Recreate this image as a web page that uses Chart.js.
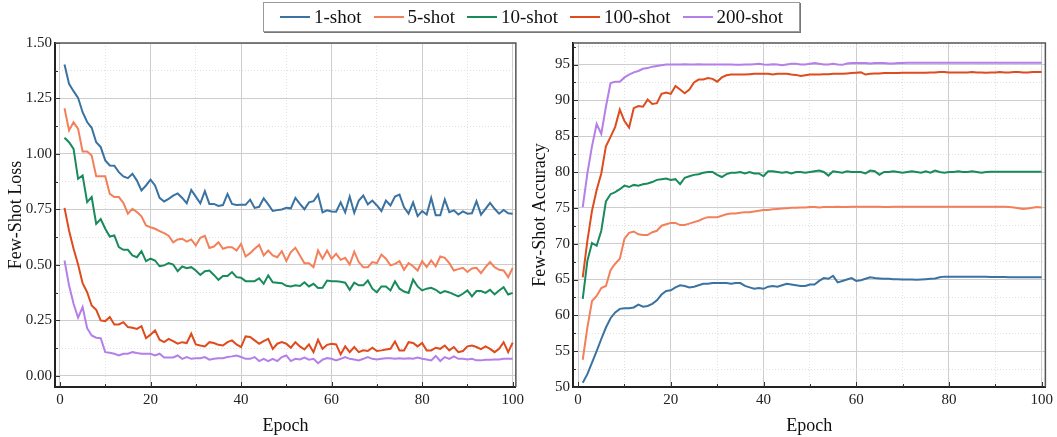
<!DOCTYPE html>
<html>
<head>
<meta charset="utf-8">
<script src="https://cdn.jsdelivr.net/npm/chart.js@4.4.1/dist/chart.umd.min.js"></script>
<style>
  body { margin: 0; background: #fff; }
  #wrap { position: relative; width: 1057px; height: 437px; font-family: "Liberation Serif", "Times New Roman", serif; }
  .panel { position: absolute; top: 0; height: 437px; }
  #lossBox { left: 0; width: 528px; }
  #accBox { left: 528px; width: 529px; }
  #legend {
    position: absolute; left: 263px; top: 2px; width: 535px; height: 28px;
    border: 1px solid #9a9a9a; box-shadow: 1px 1px 0 #777; background: #fff;
    display: flex; align-items: center; justify-content: center; gap: 12px;
    font-size: 19px; color: #111; z-index: 2;
  }
  .item { display: flex; align-items: center; gap: 4px; }
  .swatch { width: 30px; height: 2px; }
</style>
</head>
<body>
<div id="wrap">
  <div id="legend"></div>
  <div class="panel" id="lossBox"><canvas id="lossChart" width="528" height="437"></canvas></div>
  <div class="panel" id="accBox"><canvas id="accChart" width="529" height="437"></canvas></div>
</div>
<script>
// Series
var seriesNames = ["1-shot", "5-shot", "10-shot", "100-shot", "200-shot"];
var seriesColors = ["#3a72a1", "#f4805b", "#198a5c", "#df4b1c", "#b57fe8"];
var epochs = Array.from({ length: 100 }, function (_, i) { return i + 1; });

// Few-Shot Loss
var loss1shot = [
  1.403,1.316,1.283,1.253,1.188,1.144,1.118,1.053,1.031,0.971,
  0.948,0.947,0.918,0.899,0.891,0.911,0.880,0.836,0.858,0.884,
  0.858,0.802,0.786,0.798,0.812,0.822,0.802,0.778,0.838,0.808,
  0.778,0.832,0.775,0.775,0.766,0.770,0.820,0.775,0.770,0.771,
  0.771,0.794,0.757,0.762,0.800,0.773,0.743,0.747,0.750,0.758,
  0.755,0.802,0.775,0.751,0.782,0.787,0.817,0.737,0.746,0.741,
  0.740,0.782,0.737,0.808,0.735,0.790,0.813,0.773,0.790,0.768,
  0.743,0.790,0.768,0.808,0.817,0.760,0.731,0.782,0.720,0.743,
  0.727,0.802,0.724,0.724,0.795,0.738,0.746,0.727,0.741,0.731,
  0.733,0.787,0.727,0.753,0.780,0.753,0.731,0.748,0.733,0.731
];
var loss5shot = [
  1.206,1.106,1.143,1.113,1.011,1.011,0.993,0.900,0.900,0.900,
  0.820,0.806,0.806,0.780,0.731,0.753,0.738,0.719,0.678,0.670,
  0.663,0.652,0.643,0.632,0.602,0.615,0.618,0.605,0.615,0.588,
  0.622,0.631,0.576,0.583,0.602,0.573,0.580,0.580,0.565,0.595,
  0.538,0.553,0.573,0.590,0.543,0.565,0.543,0.535,0.562,0.518,
  0.558,0.577,0.543,0.508,0.508,0.490,0.565,0.528,0.565,0.528,
  0.550,0.523,0.532,0.502,0.560,0.513,0.490,0.490,0.513,0.508,
  0.547,0.528,0.498,0.505,0.517,0.478,0.508,0.494,0.475,0.517,
  0.490,0.520,0.494,0.538,0.532,0.508,0.475,0.481,0.487,0.468,
  0.484,0.487,0.463,0.490,0.513,0.490,0.478,0.475,0.445,0.487
];
var loss10shot = [
  1.073,1.053,1.023,0.888,0.903,0.783,0.806,0.685,0.707,0.663,
  0.628,0.633,0.580,0.568,0.568,0.543,0.535,0.562,0.517,0.528,
  0.520,0.494,0.498,0.508,0.502,0.472,0.493,0.485,0.490,0.475,
  0.455,0.472,0.475,0.455,0.433,0.450,0.450,0.468,0.445,0.442,
  0.427,0.427,0.427,0.440,0.415,0.453,0.422,0.420,0.418,0.406,
  0.403,0.408,0.405,0.422,0.403,0.415,0.396,0.397,0.430,0.427,
  0.426,0.424,0.420,0.388,0.420,0.408,0.408,0.430,0.393,0.377,
  0.403,0.403,0.385,0.426,0.393,0.380,0.374,0.434,0.403,0.385,
  0.393,0.397,0.388,0.373,0.382,0.376,0.367,0.358,0.370,0.385,
  0.358,0.382,0.382,0.374,0.388,0.367,0.385,0.400,0.367,0.374
];
var loss100shot = [
  0.757,0.655,0.573,0.502,0.418,0.377,0.317,0.298,0.250,0.247,
  0.265,0.232,0.232,0.242,0.220,0.217,0.212,0.224,0.170,0.186,
  0.205,0.163,0.152,0.167,0.157,0.145,0.152,0.148,0.190,0.142,
  0.137,0.133,0.152,0.148,0.140,0.137,0.152,0.160,0.142,0.130,
  0.178,0.175,0.160,0.145,0.157,0.167,0.122,0.145,0.152,0.145,
  0.127,0.152,0.133,0.119,0.142,0.107,0.163,0.122,0.140,0.145,
  0.142,0.097,0.133,0.107,0.130,0.107,0.115,0.112,0.127,0.112,
  0.115,0.119,0.122,0.155,0.115,0.115,0.152,0.148,0.133,0.148,
  0.115,0.115,0.127,0.122,0.137,0.115,0.130,0.107,0.112,0.133,
  0.137,0.130,0.121,0.133,0.122,0.107,0.122,0.152,0.107,0.150
];
var loss200shot = [
  0.520,0.408,0.325,0.262,0.310,0.215,0.182,0.172,0.170,0.107,
  0.104,0.100,0.092,0.100,0.100,0.107,0.103,0.100,0.100,0.100,
  0.092,0.100,0.083,0.083,0.083,0.092,0.077,0.085,0.077,0.080,
  0.080,0.085,0.073,0.077,0.080,0.080,0.085,0.088,0.092,0.085,
  0.077,0.077,0.085,0.067,0.077,0.067,0.077,0.067,0.085,0.092,
  0.067,0.077,0.074,0.083,0.073,0.077,0.057,0.073,0.080,0.077,
  0.070,0.077,0.085,0.077,0.074,0.070,0.077,0.085,0.077,0.074,
  0.077,0.080,0.080,0.077,0.080,0.077,0.080,0.077,0.083,0.077,
  0.074,0.070,0.090,0.067,0.085,0.077,0.088,0.077,0.077,0.074,
  0.077,0.070,0.070,0.073,0.073,0.074,0.074,0.077,0.077,0.077
];

// Few-Shot Accuracy
var acc1shot = [
  50.6,51.8,53.4,55.0,56.7,58.3,59.6,60.4,60.9,61.0,
  61.0,61.1,61.5,61.2,61.3,61.6,62.1,62.9,63.4,63.5,
  63.9,64.2,64.1,63.9,64.0,64.2,64.4,64.4,64.5,64.5,
  64.5,64.5,64.4,64.5,64.5,64.1,63.9,63.7,63.8,63.7,
  64.0,64.1,64.0,64.2,64.4,64.3,64.2,64.1,64.1,64.3,
  64.3,64.8,65.2,65.1,65.5,64.6,64.8,65.0,65.2,64.8,
  64.9,65.1,65.3,65.2,65.15,65.1,65.1,65.05,65.05,65.0,
  65.0,65.0,64.95,65.0,65.05,65.1,65.15,65.3,65.4,65.4,
  65.4,65.4,65.4,65.4,65.4,65.4,65.4,65.4,65.35,65.35,
  65.35,65.35,65.3,65.3,65.3,65.3,65.3,65.3,65.3,65.3
];
var acc5shot = [
  53.8,58.3,62.0,62.7,63.8,64.1,66.3,67.2,67.9,70.7,
  71.5,71.7,71.3,71.2,71.2,71.6,71.8,72.5,72.7,72.9,
  72.9,72.6,72.6,72.8,73.0,73.2,73.5,73.7,73.7,73.7,
  73.9,74.1,74.2,74.2,74.3,74.4,74.4,74.5,74.6,74.7,
  74.7,74.8,74.85,74.9,74.95,75.0,75.0,75.05,75.05,75.1,
  75.1,75.05,75.1,75.1,75.1,75.15,75.1,75.1,75.15,75.15,
  75.15,75.15,75.15,75.15,75.15,75.1,75.1,75.15,75.15,75.15,
  75.15,75.15,75.15,75.15,75.15,75.15,75.15,75.15,75.15,75.15,
  75.15,75.15,75.15,75.15,75.15,75.15,75.15,75.15,75.15,75.15,
  75.15,75.15,75.1,75.05,74.95,74.85,74.9,75.0,75.1,75.05
];
var acc10shot = [
  62.3,67.6,70.1,69.7,71.8,75.9,76.9,77.2,77.6,78.1,
  77.9,78.2,78.1,78.3,78.4,78.6,78.9,79.0,79.1,78.9,
  79.0,78.3,79.2,79.4,79.6,79.7,79.9,80.0,80.0,79.6,
  79.3,79.7,79.9,79.9,80.0,79.8,80.0,79.8,79.8,79.4,
  80.1,80.1,80.0,79.9,80.0,79.8,80.0,80.0,79.9,80.0,
  80.1,80.2,80.0,79.5,80.1,80.0,79.9,80.1,80.0,80.0,
  80.0,79.8,80.2,80.1,79.6,80.0,80.0,80.1,80.0,79.9,
  80.0,80.1,80.0,79.9,80.1,79.9,80.2,80.0,79.9,80.0,
  80.0,80.1,80.0,80.0,80.1,80.0,79.9,80.0,80.05,80.05,
  80.05,80.05,80.05,80.05,80.05,80.05,80.05,80.05,80.05,80.05
];
var acc100shot = [
  65.3,70.4,74.6,77.5,79.8,83.6,84.9,86.3,88.7,87.1,
  86.2,88.9,89.2,89.1,90.1,89.5,89.6,90.9,91.1,90.9,
  92.0,91.5,91.0,91.5,92.5,92.9,92.9,93.1,93.0,92.6,
  93.2,93.5,93.6,93.6,93.6,93.6,93.65,93.7,93.7,93.7,
  93.7,93.6,93.7,93.7,93.7,93.6,93.55,93.4,93.5,93.6,
  93.6,93.6,93.65,93.65,93.7,93.7,93.7,93.75,93.8,93.85,
  93.9,93.6,93.7,93.75,93.75,93.8,93.8,93.8,93.8,93.85,
  93.85,93.85,93.85,93.85,93.85,93.9,93.9,93.95,93.95,93.9,
  93.9,93.9,93.9,93.9,93.95,93.9,93.9,93.85,93.9,93.9,
  93.95,93.9,93.9,93.95,93.95,93.9,93.9,93.95,93.95,93.95
];
var acc200shot = [
  75.1,79.8,83.6,86.7,85.3,89.1,92.4,92.6,92.6,93.2,
  93.6,93.9,94.1,94.4,94.5,94.7,94.8,94.9,95.0,95.0,
  95.0,95.0,95.05,95.0,95.0,95.05,95.0,95.0,95.0,95.0,
  95.0,95.0,95.0,94.95,94.95,95.0,95.0,95.05,95.1,95.0,
  94.95,95.05,95.0,94.9,95.0,95.1,95.1,95.0,95.0,95.1,
  95.2,95.1,95.0,95.0,95.1,95.0,94.95,95.15,95.2,95.2,
  95.2,95.2,95.15,95.2,95.2,95.2,95.15,95.15,95.2,95.2,
  95.25,95.25,95.25,95.25,95.25,95.25,95.25,95.25,95.25,95.25,
  95.25,95.25,95.25,95.25,95.25,95.25,95.25,95.25,95.25,95.25,
  95.25,95.25,95.25,95.25,95.25,95.25,95.25,95.25,95.25,95.25
];

// Ticks (major labelled, minor only as dotted grid)
var epochTicks = [0, 20, 40, 60, 80, 100];
var epochMinor = [10, 30, 50, 70, 90];
var lossTicks = [0, 0.25, 0.5, 0.75, 1.0, 1.25, 1.5];
var lossMinor = [0.125, 0.375, 0.625, 0.875, 1.125, 1.375];
var accTicks = [50, 55, 60, 65, 70, 75, 80, 85, 90, 95];
var accMinor = [52.5, 57.5, 62.5, 67.5, 72.5, 77.5, 82.5, 87.5, 92.5, 97.5];

Chart.defaults.font.family = '"Liberation Serif", "Times New Roman", serif';
Chart.defaults.color = "#222";

// legend in html
var legend = document.getElementById("legend");
seriesNames.forEach(function (name, i) {
    var item = document.createElement("div");
    item.className = "item";
    item.innerHTML = '<span class="swatch" style="background:' + seriesColors[i] + '"></span><span>' + name + "</span>";
    legend.appendChild(item);
});

function isMajor(list, v) {
    return list.some(function (m) { return Math.abs(m - v) < 1e-6; });
}

// frame on top/right + short inward ticks
var framePlugin = {
    id: "frame",
    afterDraw: function (chart) {
        var ctx = chart.ctx, a = chart.chartArea;
        var xs = chart.scales.x, ys = chart.scales.y;
        ctx.save();
        ctx.strokeStyle = "#333";
        ctx.lineWidth = 1;
        xs.ticks.forEach(function (t) {
            var px = Math.round(xs.getPixelForValue(t.value)) + 0.5;
            var len = isMajor(xs.options.majorList, t.value) ? 5 : 3;
            ctx.beginPath(); ctx.moveTo(px, a.bottom); ctx.lineTo(px, a.bottom - len); ctx.stroke();
        });
        ys.ticks.forEach(function (t) {
            var py = Math.round(ys.getPixelForValue(t.value)) + 0.5;
            var len = isMajor(ys.options.majorList, t.value) ? 5 : 3;
            ctx.beginPath(); ctx.moveTo(a.left, py); ctx.lineTo(a.left + len, py); ctx.stroke();
        });
        ctx.strokeStyle = "#555";
        ctx.lineWidth = 1.5;
        ctx.beginPath();
        ctx.moveTo(a.left, a.top); ctx.lineTo(a.right, a.top); ctx.lineTo(a.right, a.bottom);
        ctx.stroke();
        ctx.restore();
    }
};

function makeScale(opts) {
    return {
        type: "linear",
        min: opts.min,
        max: opts.max,
        majorList: opts.major,
        afterBuildTicks: function (scale) {
            scale.ticks = opts.major.concat(opts.minor)
                .sort(function (a, b) { return a - b; })
                .map(function (v) { return { value: v }; });
        },
        afterFit: function (scale) {
            if (opts.width) scale.width = opts.width;
            if (opts.height) scale.height = opts.height;
        },
        ticks: {
            autoSkip: false,
            maxRotation: 0,
            padding: opts.tickPad,
            font: { size: 15 },
            color: "#222",
            callback: function (v) {
                return isMajor(opts.major, v) ? opts.fmt(v) : "";
            }
        },
        grid: {
            drawTicks: false,
            lineWidth: 1,
            color: function (c) {
                if (!c.tick) return "#cdcdcd";
                return isMajor(opts.major, c.tick.value) ? "#cdcdcd" : "#e0e0e0";
            }
        },
        border: {
            display: true,
            color: "#222",
            width: 2,
            dash: function (c) {
                if (!c.tick) return [];
                return isMajor(opts.major, c.tick.value) ? [] : [1, 2];
            }
        },
        title: {
            display: true,
            text: opts.title,
            font: { size: 18 },
            color: "#111",
            padding: { top: opts.titlePad, bottom: 0 }
        }
    };
}

function makeDatasets(lists) {
    return lists.map(function (vals, i) {
        return {
            label: seriesNames[i],
            data: vals.map(function (v, j) { return { x: epochs[j], y: v }; }),
            borderColor: seriesColors[i],
            backgroundColor: seriesColors[i],
            borderWidth: 2,
            pointRadius: 0,
            tension: 0,
            fill: false
        };
    });
}

function makeChart(id, lists, xRange, yOpts, padRight) {
    return new Chart(document.getElementById(id), {
        type: "line",
        data: { datasets: makeDatasets(lists) },
        options: {
            responsive: false,
            animation: false,
            layout: { padding: { left: 0, right: padRight, top: 43, bottom: 0 } },
            plugins: { legend: { display: false }, tooltip: { enabled: false } },
            scales: {
                x: makeScale({
                    min: xRange[0], max: xRange[1], major: epochTicks, minor: epochMinor,
                    fmt: function (v) { return String(v); }, title: "Epoch",
                    height: 50, tickPad: 4, titlePad: 6
                }),
                y: makeScale(yOpts)
            }
        },
        plugins: [framePlugin]
    });
}

makeChart("lossChart",
    [loss1shot, loss5shot, loss10shot, loss100shot, loss200shot],
    [-1.1, 100.7],
    {
        min: -0.05, max: 1.5, major: lossTicks, minor: lossMinor,
        fmt: function (v) { return v.toFixed(2); }, title: "Few-Shot Loss",
        width: 55, tickPad: 3, titlePad: 5
    }, 9);

makeChart("accChart",
    [acc1shot, acc5shot, acc10shot, acc100shot, acc200shot],
    [-1.1, 100.8],
    {
        min: 50, max: 98, major: accTicks, minor: accMinor,
        fmt: function (v) { return String(v); }, title: "Few-Shot Accuracy",
        width: 45, tickPad: 3, titlePad: 1
    }, 10);
</script>
</body>
</html>
